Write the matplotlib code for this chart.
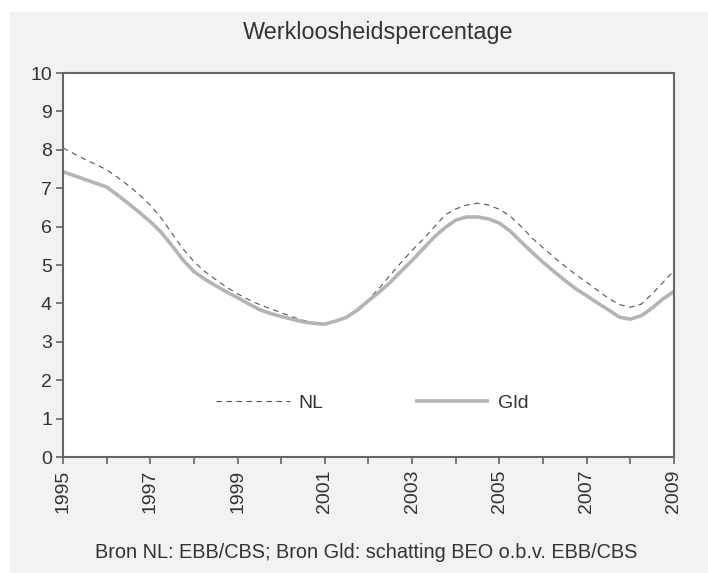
import matplotlib
matplotlib.use("Agg")
import matplotlib.pyplot as plt
from matplotlib.patches import Rectangle
import numpy as np

years = np.arange(1995, 2009.001, 0.25)

nl = [8.05, 7.90, 7.75, 7.62, 7.48, 7.28, 7.07, 6.83, 6.56, 6.22, 5.82, 5.42,
      5.09, 4.83, 4.62, 4.42, 4.25, 4.10, 3.97, 3.86, 3.76, 3.65, 3.56, 3.50,
      3.47, 3.54, 3.66, 3.87, 4.10, 4.40, 4.74, 5.07, 5.38, 5.67, 5.98, 6.30,
      6.46, 6.56, 6.61, 6.56, 6.45, 6.27, 6.00, 5.70, 5.45, 5.20, 4.97, 4.75,
      4.55, 4.34, 4.13, 3.97, 3.90, 3.98, 4.25, 4.55, 4.85]

gld = [7.43, 7.33, 7.23, 7.13, 7.03, 6.82, 6.60, 6.37, 6.13, 5.85, 5.50, 5.13,
       4.83, 4.63, 4.46, 4.30, 4.15, 3.99, 3.84, 3.74, 3.66, 3.59, 3.52, 3.48,
       3.46, 3.54, 3.64, 3.83, 4.07, 4.30, 4.55, 4.84, 5.12, 5.42, 5.72, 5.97,
       6.17, 6.25, 6.25, 6.20, 6.09, 5.88, 5.60, 5.33, 5.07, 4.83, 4.60, 4.38,
       4.20, 4.01, 3.83, 3.64, 3.59, 3.68, 3.88, 4.12, 4.31]

year_ticks = list(range(1995, 2010))
year_labels = [str(y) if (y - 1995) % 2 == 0 else "" for y in year_ticks]
y_ticks = list(range(0, 11))

title = "Werkloosheidspercentage"
source = "Bron NL: EBB/CBS; Bron Gld: schatting BEO o.b.v. EBB/CBS"

plt.rcParams['font.family'] = ['Liberation Sans', 'DejaVu Sans']

W, H = 708, 573
fig = plt.figure(figsize=(W / 100, H / 100), dpi=100, facecolor='white')
bg = Rectangle((10 / W, 0), 1 - 10 / W, 1 - 12 / H,
               transform=fig.transFigure, facecolor='#f2f2f2',
               edgecolor='none', zorder=-10)
fig.patches.append(bg)

ax = fig.add_axes([63 / W, 1 - 457 / H, (674 - 63) / W, (457 - 73) / H])
ax.set_zorder(5)
ax.set_facecolor('white')

ax.plot(years, nl, color='#555555', lw=0.8, dashes=(5, 4), label='NL')
ax.plot(years, gld, color='#b4b4b4', lw=2.6, label='Gld',
        solid_capstyle='butt')

ax.set_xlim(1995, 2009)
ax.set_ylim(0, 10)
ax.set_xticks(year_ticks)
ax.set_xticklabels(year_labels, rotation=90, va='top', ha='center')
ax.set_yticks(y_ticks)

for s in ax.spines.values():
    s.set_color('#666666')
    s.set_linewidth(1.5)

ax.tick_params(axis='both', direction='out', length=5, width=1.2,
               color='#666666', labelcolor='#333333', labelsize=14)
ax.tick_params(axis='y', pad=3)
ax.tick_params(axis='x', pad=4)

leg = ax.legend(ncol=2, frameon=False, loc='center',
                bbox_to_anchor=(0.506, 0.14), handlelength=3.8,
                handletextpad=0.45, columnspacing=4.7, fontsize=14)
for t in leg.get_texts():
    t.set_color('#333333')

fig.text(378 / W, 1 - 32 / H, title, ha='center', va='center',
         fontsize=16.8, color='#333333')
fig.text(366 / W, 1 - 552 / H, source, ha='center', va='center',
         fontsize=14.3, color='#333333')

fig.savefig('out.png', dpi=100, facecolor=fig.get_facecolor())
